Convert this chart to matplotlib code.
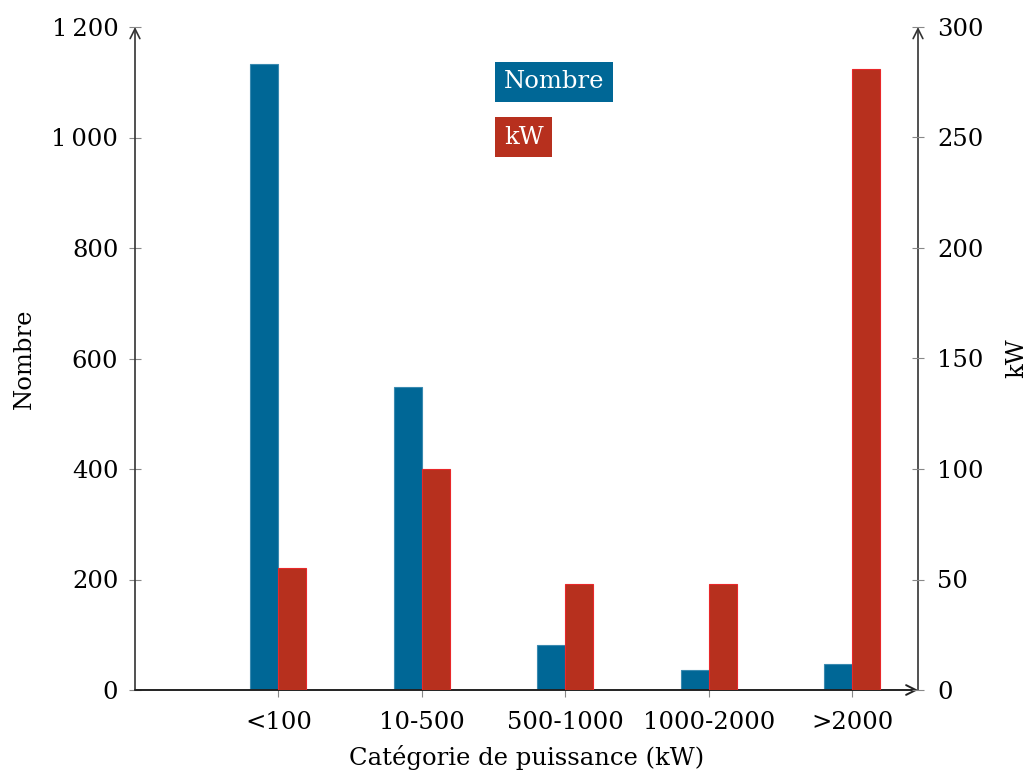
import matplotlib
matplotlib.use("Agg")
import matplotlib.pyplot as plt
from matplotlib.ticker import FuncFormatter
import numpy as np

categories = ["<100", "10-500", "500-1000", "1000-2000", ">2000"]
nombre = [1133, 548, 81, 36, 47]
kw = [55, 100, 48, 48, 281]
left_ticks = [0, 200, 400, 600, 800, 1000, 1200]
right_ticks = [0, 50, 100, 150, 200, 250, 300]

BLUE = "#006796"
RED = "#B7301E"
FONT = ["DejaVu Serif"]
FS = 17.5

plt.rcParams['font.family'] = FONT
plt.rcParams['font.size'] = FS

fig = plt.figure(figsize=(10.28, 7.73), dpi=100)
ax = fig.add_axes([135/1028, 1-690/773, (918-135)/1028, (690-27)/773])
ax2 = ax.twinx()

x = np.arange(len(categories))
w = 0.195
ax.bar(x - w/2, nombre, width=w, color=BLUE, edgecolor="#3a8ab0", linewidth=0.8, zorder=2)
ax2.bar(x + w/2, kw, width=w, color=RED, edgecolor="#e8282a", linewidth=0.8, zorder=2)

ax.set_xlim(-1.0, 4.46)
ax.set_ylim(0, 1200)
ax2.set_ylim(0, 300)
ax.set_yticks(left_ticks)
ax2.set_yticks(right_ticks)
ax.yaxis.set_major_formatter(FuncFormatter(lambda v, p: f"{int(v):,}".replace(",", "\u2009")))
ax.set_xticks(x)
ax.set_xticklabels(categories)

for a in (ax, ax2):
    for s in a.spines.values():
        s.set_visible(False)
    a.tick_params(direction='inout', length=8, width=0.8, color='#888888', labelsize=FS, pad=8)
ax2.tick_params(axis='y', pad=10)
ax.tick_params(axis='x', direction='out', length=5, pad=10)

# axis lines with arrows
ax.annotate('', xy=(0, 1), xytext=(0, 0), xycoords='axes fraction', arrowprops=dict(arrowstyle='->', color='#333333', lw=1.2, shrinkA=0, shrinkB=0))
ax.annotate('', xy=(1, 1), xytext=(1, 0), xycoords='axes fraction', arrowprops=dict(arrowstyle='->', color='#333333', lw=1.2, shrinkA=0, shrinkB=0))
ax.annotate('', xy=(1, 0), xytext=(0, 0), xycoords='axes fraction', arrowprops=dict(arrowstyle='->', color='#222222', lw=1.4, shrinkA=0, shrinkB=0), zorder=5)

ax.set_xlabel("Catégorie de puissance (kW)", fontsize=FS, labelpad=8)
ax.set_ylabel("Nombre", fontsize=FS, labelpad=11)
ax2.set_ylabel("kW", fontsize=FS, labelpad=15)

# legend as coloured boxes
fig.text(504/1028, 1-82/773, "Nombre", color="white", fontsize=FS, va='center', ha='left',
         bbox=dict(boxstyle='square,pad=0.35', fc=BLUE, ec='none'))
fig.text(504/1028, 1-137/773, "kW", color="white", fontsize=FS, va='center', ha='left',
         bbox=dict(boxstyle='square,pad=0.35', fc=RED, ec='none'))

fig.savefig("out.png", dpi=100)
